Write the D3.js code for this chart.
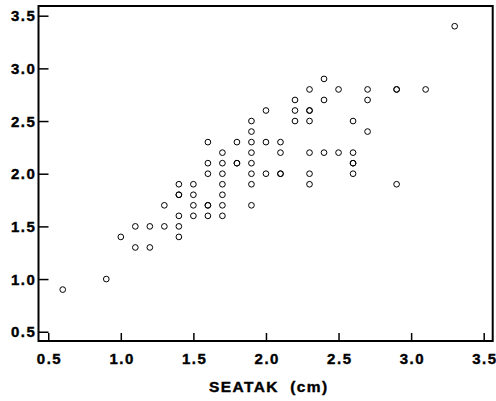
<!DOCTYPE html>
<html>
<head>
<meta charset="utf-8">
<script src="https://cdn.jsdelivr.net/npm/d3@7"></script>
<style>
  body { margin: 0; background: #fff; }
  text { font-family: Arial, "Liberation Sans", Helvetica, sans-serif; font-weight: bold; }
</style>
</head>
<body>
<div id="vis"></div>
<script>
const WIDTH = 496;
const HEIGHT = 401;

// observations (SEATAK, y); repeated pairs are overplotted points
const seatak = [
  0.6, 0.9, 1.0, 1.1, 1.1, 1.2, 1.2, 1.3, 1.3, 1.4, 1.4, 1.4, 1.5, 1.5, 1.6, 1.6, 1.7, 1.7, 1.9,
  1.4, 1.5, 1.7,
  1.4, 1.5, 1.7, 1.9,
  1.6, 1.7, 1.9, 2.0, 2.1,
  1.6, 1.7, 1.8, 1.9,
  1.7, 1.9, 2.1,
  1.6, 1.8, 1.9, 2.0, 2.1,
  1.9, 1.9, 2.0,
  2.2, 2.4, 2.7,
  2.2, 2.3,
  2.2, 2.3, 2.6,
  2.7,
  2.3, 2.4, 2.5, 2.6,
  2.6,
  2.3, 2.6,
  2.3, 2.9,
  2.3, 2.5, 2.7, 2.9, 3.1,
  2.4,
  3.3,
  1.8, 2.3, 2.9, 2.6, 2.1, 1.4, 1.6
];
const valor = [
  0.9, 1.0, 1.4, 1.5, 1.3, 1.5, 1.3, 1.7, 1.5, 1.5, 1.4, 1.6, 1.7, 1.6, 1.7, 1.6, 1.7, 1.6, 1.7,
  1.8, 1.8, 1.8,
  1.9, 1.9, 1.9, 1.9,
  2.0, 2.0, 2.0, 2.0, 2.0,
  2.1, 2.1, 2.1, 2.1,
  2.2, 2.2, 2.2,
  2.3, 2.3, 2.3, 2.3, 2.3,
  2.4, 2.5, 2.6,
  2.7, 2.7, 2.7,
  2.6, 2.6,
  2.5, 2.5, 2.5,
  2.4,
  2.2, 2.2, 2.2, 2.2,
  2.1,
  2.0, 2.0,
  1.9, 1.9,
  2.8, 2.8, 2.8, 2.8, 2.8,
  2.9,
  3.4,
  2.1, 2.6, 2.8, 2.1, 2.0, 1.8, 1.7
];

const xTicks = [0.5, 1.0, 1.5, 2.0, 2.5, 3.0, 3.5];
const yTicks = [0.5, 1.0, 1.5, 2.0, 2.5, 3.0, 3.5];
const xTitle = "SEATAK  (cm)";

const MARGINS = { TOP: 6, RIGHT: 3.3, BOTTOM: 60, LEFT: 38.5 };
const width = WIDTH - MARGINS.LEFT - MARGINS.RIGHT;
const height = HEIGHT - MARGINS.TOP - MARGINS.BOTTOM;
const SPACING = 1.5; // letter spacing of the labels

const svg = d3.select("#vis").append("svg")
  .attr("width", WIDTH)
  .attr("height", HEIGHT);

const g = svg.append("g")
  .attr("transform", `translate(${MARGINS.LEFT}, ${MARGINS.TOP})`);

const escalaX = d3.scaleLinear().domain([0.433, 3.562]).range([0, width]);
const escalaY = d3.scaleLinear().domain([0.412, 3.592]).range([height, 0]);

const datos = seatak.map((d, i) => ({ x: d, y: valor[i] }));

// ejes con ticks hacia adentro
const ejeX = d3.axisBottom(escalaX)
  .tickValues(xTicks)
  .tickFormat(d3.format(".1f"))
  .tickSizeInner(-8)
  .tickSizeOuter(0)
  .tickPadding(12.3);

const ejeY = d3.axisLeft(escalaY)
  .tickValues(yTicks)
  .tickFormat(d3.format(".1f"))
  .tickSizeInner(-10)
  .tickSizeOuter(0)
  .tickPadding(3.7);

const gx = g.append("g")
  .attr("transform", `translate(0, ${height})`)
  .call(ejeX);

const gy = g.append("g").call(ejeY);

[gx, gy].forEach(eje => {
  eje.select(".domain").remove();
  eje.selectAll(".tick line").attr("stroke", "#000").attr("stroke-width", 1.5);
  eje.selectAll(".tick text")
    .attr("fill", "#000")
    .attr("stroke", "#000")
    .attr("stroke-width", 0.4)
    .style("font-size", "15px")
    .style("letter-spacing", `${SPACING}px`);
});
gx.selectAll(".tick text").attr("dx", SPACING / 2);
gy.selectAll(".tick text").attr("dy", "0.35em").attr("dx", SPACING);

// marco
g.append("rect")
  .attr("x", 0)
  .attr("y", 0)
  .attr("width", width)
  .attr("height", height)
  .attr("fill", "none")
  .attr("stroke", "#000")
  .attr("stroke-width", 2);

g.selectAll(".point")
  .data(datos)
  .join("circle")
  .attr("class", "point")
  .attr("cx", d => escalaX(d.x))
  .attr("cy", d => escalaY(d.y))
  .attr("r", 2.85)
  .attr("fill", "none")
  .attr("stroke", "#000")
  .attr("stroke-width", 1);

g.append("text")
  .attr("x", width / 2 + 2.5 + SPACING / 2)
  .attr("y", height + 50.7)
  .attr("text-anchor", "middle")
  .style("font-size", "15.5px")
  .style("letter-spacing", "1.4px")
  .style("white-space", "pre")
  .attr("fill", "#000")
  .attr("stroke", "#000")
  .attr("stroke-width", 0.4)
  .text(xTitle);
</script>
</body>
</html>
